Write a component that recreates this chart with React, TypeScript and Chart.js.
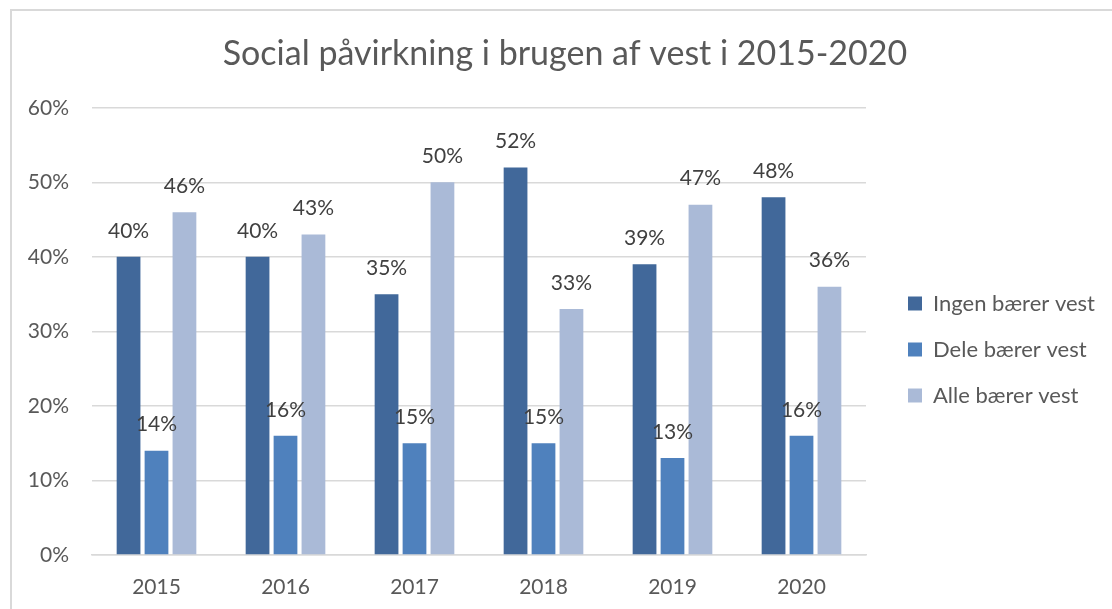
import { useEffect, useRef } from 'react';
import { Chart, registerables } from 'chart.js';

Chart.register(...registerables);

const titleText = 'Social påvirkning i brugen af vest i 2015-2020';
const categories = ['2015', '2016', '2017', '2018', '2019', '2020'];
const seriesNames = ['Ingen bærer vest', 'Dele bærer vest', 'Alle bærer vest'];
const ingenValues = [40, 40, 35, 52, 39, 48];
const deleValues = [14, 16, 15, 15, 13, 16];
const alleValues = [46, 43, 50, 33, 47, 36];
const seriesColors = ['#41689A', '#4F81BD', '#AABAD7'];
const yMax = 60;
const yStep = 10;

const FONT = 'Lato';

const dataLabelsPlugin = {
  id: 'dataLabels',
  afterDatasetsDraw(chart: any) {
    const ctx = chart.ctx;
    ctx.save();
    ctx.font = `21px ${FONT}`;
    ctx.fillStyle = '#404040';
    ctx.textAlign = 'center';
    ctx.textBaseline = 'middle';
    chart.data.datasets.forEach((ds: any, i: number) => {
      const meta = chart.getDatasetMeta(i);
      meta.data.forEach((el: any, j: number) => {
        ctx.fillText(`${ds.data[j]}%`, el.x, el.y - 26);
      });
    });
    ctx.restore();
  },
};

const LEGEND_WIDTH = 246;
const LEGEND_SHIFT_X = 18;
const LEGEND_SHIFT_Y = 45;
const TITLE_SHIFT_X = 9;

const layoutTweaksPlugin = {
  id: 'layoutTweaks',
  beforeLayout(chart: any) {
    const lg = chart.legend;
    if (lg && !lg._patchedFit) {
      const orig = lg.fit.bind(lg);
      lg.fit = function () {
        orig();
        this.width = LEGEND_WIDTH;
      };
      lg._patchedFit = true;
    }
  },
  afterLayout(chart: any) {
    const lg = chart.legend;
    if (lg) {
      lg.left += LEGEND_SHIFT_X;
      lg.right += LEGEND_SHIFT_X;
      lg.top += LEGEND_SHIFT_Y;
      lg.bottom += LEGEND_SHIFT_Y;
    }
    const tb = chart.titleBlock;
    if (tb) {
      tb.left += TITLE_SHIFT_X;
      tb.right += TITLE_SHIFT_X;
    }
  },
};

export default function App() {
  const ref = useRef<HTMLCanvasElement>(null);

  useEffect(() => {
    const values = [ingenValues, deleValues, alleValues];
    const chart = new Chart(ref.current as HTMLCanvasElement, {
      type: 'bar',
      data: {
        labels: categories,
        datasets: seriesNames.map((name, i) => ({
          label: name,
          data: values[i],
          backgroundColor: seriesColors[i],
          borderWidth: 0,
          categoryPercentage: 0.65,
          barPercentage: 0.85,
        })),
      },
      options: {
        responsive: false,
        animation: false,
        layout: { padding: { top: 0, left: 0, right: 0, bottom: 0 } },
        plugins: {
          title: {
            display: true,
            text: titleText,
            color: '#595959',
            font: { family: FONT, size: 34, weight: 'normal' },
            padding: { top: 34, bottom: 33 },
          },
          legend: {
            position: 'right',
            labels: {
              color: '#595959',
              font: { family: FONT, size: 22 },
              boxWidth: 14,
              boxHeight: 14,
              padding: 24,
            },
          },
          tooltip: { enabled: false },
        },
        scales: {
          x: {
            grid: { display: false },
            border: { display: true, color: '#d9d9d9', width: 1.5 },
            ticks: { color: '#595959', font: { family: FONT, size: 21 }, padding: 12 },
            afterFit(scale: any) {
              scale.height = 54;
            },
          },
          y: {
            min: 0,
            max: yMax,
            border: { display: false },
            grid: { color: '#d9d9d9', lineWidth: 1.5, drawTicks: false },
            ticks: {
              stepSize: yStep,
              color: '#595959',
              font: { family: FONT, size: 21 },
              padding: 23,
              callback: (v: any) => `${v}%`,
            },
            afterFit(scale: any) {
              scale.width = 92;
            },
          },
        },
      },
      plugins: [dataLabelsPlugin, layoutTweaksPlugin],
    });
    return () => chart.destroy();
  }, []);

  return (
    <div
      style={{
        position: 'fixed',
        left: 0,
        top: 0,
        width: 1112,
        height: 609,
        overflow: 'hidden',
        background: '#fff',
      }}
    >
      <div
        style={{
          position: 'absolute',
          left: 10,
          top: 9,
          width: 1130,
          height: 640,
          border: '2px solid #d9d9d9',
          boxSizing: 'border-box',
        }}
      />
      <canvas
        ref={ref}
        width={1112}
        height={609}
        style={{ position: 'absolute', left: 0, top: 0, width: 1112, height: 609 }}
      />
    </div>
  );
}
